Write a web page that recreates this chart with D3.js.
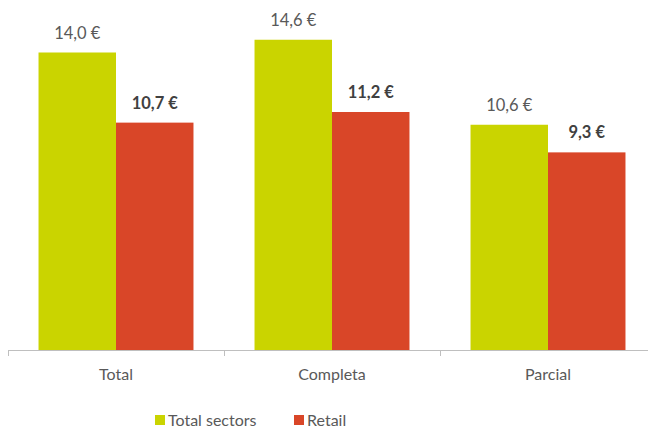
<!DOCTYPE html>
<html><head><meta charset="utf-8">
<script src="https://cdn.jsdelivr.net/npm/d3@7"></script>
<style>body{margin:0;background:#fff}svg{display:block}</style>
</head><body>
<script>
const categories = ["Total", "Completa", "Parcial"];
const seriesNames = ["Total sectors", "Retail"];
const totalSectors = [14.0, 14.6, 10.6];
const retail = [10.7, 11.2, 9.3];
const colors = ["#CAD400", "#D94628"];

const W = 648, H = 430;
const svg = d3.select("body").append("svg").attr("width", W).attr("height", H);
const font = "Lato, 'Open Sans', sans-serif";

const x = d3.scaleBand().domain(categories).range([8, 656]).paddingInner(0).paddingOuter(0);
const inner = d3.scaleBand().domain(seriesNames).range([0, x.bandwidth()]).paddingInner(0).paddingOuter(0.394);
const y = d3.scaleLinear().domain([0, 16]).range([350, 10]);

const data = categories.map((c, i) => ({c, vals: [totalSectors[i], retail[i]]}));

const g = svg.append("g");
data.forEach(d => {
  d.vals.forEach((v, j) => {
    const bx = x(d.c) + inner(seriesNames[j]);
    g.append("rect").attr("x", bx).attr("y", y(v)).attr("width", inner.bandwidth())
      .attr("height", y(0) - y(v)).attr("fill", colors[j]);
    g.append("text").attr("x", bx + inner.bandwidth() / 2).attr("y", y(v) - 14)
      .attr("text-anchor", "middle").attr("font-family", font).attr("font-size", 16.5)
      .attr("font-weight", j === 1 ? "bold" : "normal")
      .attr("fill", j === 1 ? "#404040" : "#595959")
      .text(d3.format(".1f")(v).replace(".", ",") + " €");
  });
});

// axis
const axis = d3.axisBottom(x).tickSize(0).tickPadding(19);
const ag = svg.append("g").attr("transform", "translate(0,350)").call(axis);
ag.select(".domain").attr("stroke", "#BFBFBF");
ag.selectAll("text").attr("font-family", font).attr("font-size", 16).attr("fill", "#595959");
const bounds = categories.map(c => x(c)).concat([x(categories[categories.length - 1]) + x.bandwidth()]);
ag.selectAll(".sep").data(bounds).enter().append("line")
  .attr("x1", d => d + 0.5).attr("x2", d => d + 0.5).attr("y1", 0).attr("y2", 6).attr("stroke", "#BFBFBF");

// legend
const legendX = [155, 294];
const lg = svg.append("g");
seriesNames.forEach((s, i) => {
  lg.append("rect").attr("x", legendX[i]).attr("y", 415).attr("width", 10).attr("height", 10).attr("fill", colors[i]);
  lg.append("text").attr("x", legendX[i] + 13).attr("y", 426).attr("font-family", font)
    .attr("font-size", 16).attr("fill", "#595959").text(s);
});
</script>
</body></html>
